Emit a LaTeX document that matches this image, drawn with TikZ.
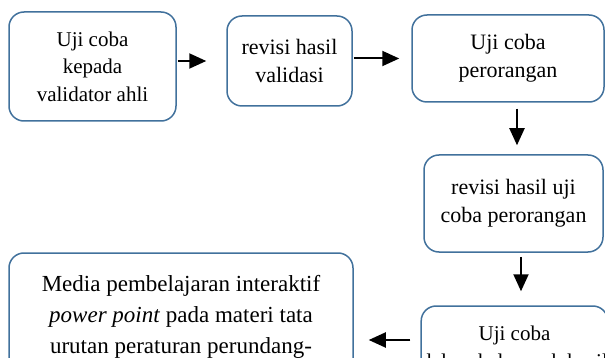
\documentclass[tikz,border=0pt]{standalone}
\usepackage{fontspec}
\setmainfont{Liberation Serif}
\usepackage{xcolor}
\definecolor{boxblue}{HTML}{41719C}
\usepackage{tikz}
\usetikzlibrary{arrows.meta, positioning, calc}

\begin{document}
\begin{tikzpicture}[x=1pt, y=1pt,
  box/.style={rectangle, rounded corners=15pt, draw=boxblue, line width=1.5pt,
    fill=white, align=center, inner sep=0pt, font=\fontsize{22}{28}\selectfont},
  flow/.style={-{Triangle[length=17pt, width=15pt]}, line width=2pt, black}
]
\path[use as bounding box, clip] (0,0) rectangle (605,-358);

\node[box, minimum width=167pt, minimum height=109pt,
  font=\fontsize{21}{27.5}\selectfont] (b1) at (92.5,-66.5)
  {Uji coba\\kepada\\validator ahli};
\node[box, minimum width=125pt, minimum height=90pt] (b2) at (289.5,-61)
  {revisi hasil\\validasi};
\node[box, minimum width=192pt, minimum height=87pt] (b3) at (508,-58.5)
  {Uji coba\\perorangan};
\node[box, minimum width=179pt, minimum height=97pt] (b4) at (513.5,-203.5)
  {revisi hasil uji\\coba perorangan};
\node[box, minimum width=183pt, minimum height=86pt,
  font=\fontsize{21}{28}\selectfont] (b5) at (514.5,-349)
  {Uji coba\\dalam kelompok kecil};
\node[box, minimum width=344pt, minimum height=128pt,
  font=\fontsize{23}{31}\selectfont] (b6) at (181,-317)
  {Media pembelajaran interaktif\\\textit{power point} pada materi tata\\urutan peraturan perundang-};

\draw[flow, shorten <=1pt, shorten >=20pt] (b1.east |- b2.west) -- (b2.west);
\draw[flow, shorten <=1pt, shorten >=12pt] (b2.east |- b3.west) -- (b3.west);
\draw[flow, shorten <=6pt, shorten >=9pt] ([xshift=9pt]b3.south) -- ([xshift=9pt]b3.south |- b4.north);
\draw[flow, shorten <=4pt, shorten >=14pt] ([xshift=7.5pt]b4.south) -- ([xshift=7.5pt]b4.south |- b5.north);
\draw[flow, shorten <=10pt, shorten >=15pt] ([yshift=9pt]b5.west) -- ([yshift=9pt]b5.west -| b6.east);
\end{tikzpicture}
\end{document}
